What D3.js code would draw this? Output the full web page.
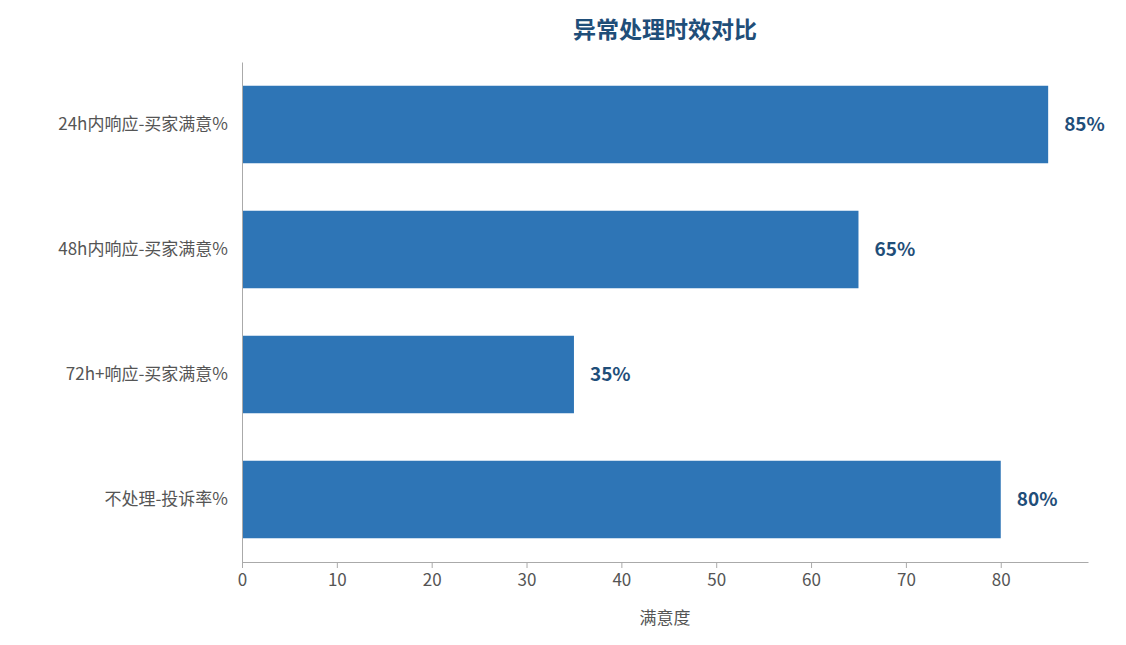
<!DOCTYPE html>
<html lang="zh">
<head>
  <meta charset="UTF-8">
  <title>异常处理时效对比</title>
  <style>
    body { margin: 0; background: #fff; }
    text { font-family: "Noto Sans CJK SC", "Noto Sans", sans-serif; }
  </style>
</head>
<body>
  <script src="https://cdn.jsdelivr.net/npm/d3@7"></script>
  <script>
    let categories = ["24h内响应-买家满意%", "48h内响应-买家满意%", "72h+响应-买家满意%", "不处理-投诉率%"];
    let values = [85, 65, 35, 80];
    let ticks = [0, 10, 20, 30, 40, 50, 60, 70, 80];

    let width = 1126, height = 645;
    let svg = d3.select("body").append("svg")
      .attr("width", width)
      .attr("height", height);

    let x = d3.scaleLinear().domain([0, 89.2]).range([242, 1088]);
    let y = d3.scaleBand().domain(categories).range([62, 562])
      .paddingInner(0.38).paddingOuter(0.19);

    // 标题
    svg.append("text")
      .attr("x", 665).attr("y", 38)
      .attr("text-anchor", "middle")
      .attr("font-size", 23).attr("font-weight", "bold")
      .attr("fill", "#1f4e79")
      .text("异常处理时效对比");

    // 柱子
    svg.selectAll("rect.bar")
      .data(values)
      .enter()
      .append("rect")
      .attr("class", "bar")
      .attr("x", x(0))
      .attr("y", (d, i) => y(categories[i]))
      .attr("width", d => x(d) - x(0))
      .attr("height", y.bandwidth())
      .attr("fill", "#2e75b6");

    // 数值标签
    svg.selectAll("text.val")
      .data(values)
      .enter()
      .append("text")
      .attr("class", "val")
      .attr("x", d => x(d) + 16)
      .attr("y", (d, i) => y(categories[i]) + y.bandwidth() / 2)
      .attr("dy", "0.35em")
      .attr("font-size", 19).attr("font-weight", "bold")
      .attr("fill", "#1f4e79")
      .text(d => d + "%");

    // x 轴
    let gx = svg.append("g")
      .attr("transform", "translate(0,562)")
      .call(d3.axisBottom(x).tickValues(ticks).tickSize(6).tickSizeOuter(0));
    gx.selectAll("text").attr("font-size", 17).attr("fill", "#555").attr("dy", "0.9em");

    // y 轴
    let gy = svg.append("g")
      .attr("transform", "translate(242,0)")
      .call(d3.axisLeft(y).tickSize(0).tickSizeOuter(0).tickPadding(14));
    gy.selectAll("text").attr("font-size", 17).attr("fill", "#555");

    svg.selectAll(".domain, .tick line").attr("stroke", "#aaa");

    svg.append("text")
      .attr("x", 665).attr("y", 624)
      .attr("text-anchor", "middle")
      .attr("font-size", 17).attr("fill", "#555")
      .text("满意度");
  </script>
</body>
</html>
